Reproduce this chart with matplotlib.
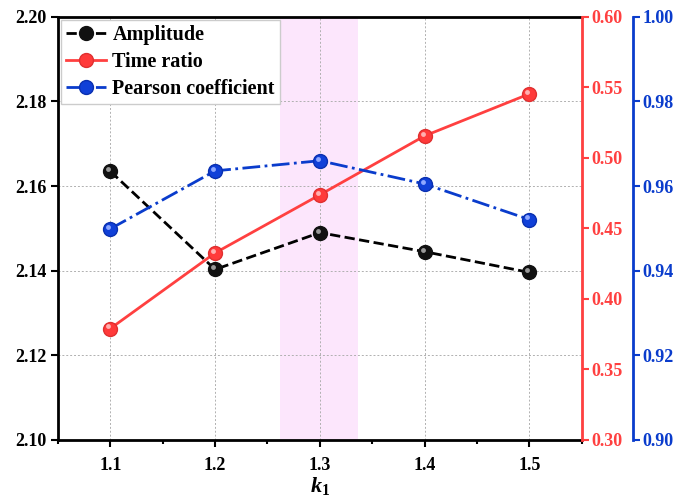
import matplotlib.pyplot as plt
from matplotlib.ticker import MultipleLocator
from matplotlib.transforms import offset_copy

# --- data ---
k1 = [1.1, 1.2, 1.3, 1.4, 1.5]
amplitude = [2.1635, 2.1403, 2.149, 2.1445, 2.1396]
time_ratio = [0.379, 0.4326, 0.4738, 0.5156, 0.5454]
pearson = [0.9499, 0.9636, 0.966, 0.9605, 0.9521]
shade_range = [1.262, 1.336]

plt.rcParams['font.family'] = ['Liberation Serif', 'DejaVu Serif']
plt.rcParams['font.weight'] = 'bold'
plt.rcParams['mathtext.fontset'] = 'custom'
plt.rcParams['mathtext.it'] = 'Liberation Serif:italic:bold'
plt.rcParams['mathtext.rm'] = 'Liberation Serif:bold'

red = '#ff4040'
blue = '#0a3ccc'

fig = plt.figure(figsize=(6.82, 4.96), dpi=100)
ax = fig.add_axes([0.085, 0.113, 0.768, 0.853])
ax2 = ax.twinx()
ax3 = ax.twinx()
ax3.spines['right'].set_position(('outward', 37))

ax.axvspan(shade_range[0], shade_range[1], color='#fce6fc', zorder=0, lw=0)

l1, = ax.plot(k1, amplitude, '--', color='black', lw=2, marker='o', ms=10,
              mfc='#111111', mec='#111111', label='Amplitude')
l2, = ax2.plot(k1, time_ratio, '-', color=red, lw=2, marker='o', ms=10,
               mfc='#ff3a3a', mec='#e03030', label='Time ratio')
l3, = ax3.plot(k1, pearson, '-.', color=blue, lw=2, marker='o', ms=10,
               mfc='#1040d8', mec='#0a30b0', label='Pearson coefficient')

# small highlights to mimic the shaded balls
for a, ys, hc in [(ax, amplitude, '#9a9a9a'), (ax2, time_ratio, '#ffb0b0'),
                  (ax3, pearson, '#8fa8ff')]:
    tr = offset_copy(a.transData, fig=fig, x=-1.5, y=1.5, units='points')
    a.plot(k1, ys, 'o', ms=3.5, color=hc, mec='none', transform=tr)

ax.set_xlim(1.05, 1.55)
ax.set_ylim(2.10, 2.20)
ax2.set_ylim(0.30, 0.60)
ax3.set_ylim(0.90, 1.00)

ax.set_xticks(k1)
ax.xaxis.set_minor_locator(MultipleLocator(0.05))
ax.set_yticks([2.10, 2.12, 2.14, 2.16, 2.18, 2.20])
ax.yaxis.set_major_formatter(plt.FormatStrFormatter('%.2f'))
ax2.set_yticks([0.30, 0.35, 0.40, 0.45, 0.50, 0.55, 0.60])
ax2.yaxis.set_major_formatter(plt.FormatStrFormatter('%.2f'))
ax3.set_yticks([0.90, 0.92, 0.94, 0.96, 0.98, 1.00])
ax3.yaxis.set_major_formatter(plt.FormatStrFormatter('%.2f'))

ax.grid(True, color='#b0b0b0', ls=(0, (2, 2)), lw=0.7)
ax.set_axisbelow(True)

ax.tick_params(axis='both', which='major', direction='out', length=5, width=1.5, labelsize=13)
ax.tick_params(axis='x', which='major', pad=7)
ax.tick_params(axis='x', which='minor', direction='out', length=3, width=1.5)
ax2.tick_params(axis='y', direction='out', length=5, width=1.5, labelsize=13,
                colors=red, pad=2)
ax3.tick_params(axis='y', direction='out', length=5, width=1.5, labelsize=13,
                colors=blue, pad=2)

for s in ['left', 'bottom', 'top']:
    ax.spines[s].set_linewidth(2)
ax2.spines['right'].set_color(red)
ax2.spines['right'].set_linewidth(2)
ax3.spines['right'].set_color(blue)
ax3.spines['right'].set_linewidth(2)
for a in (ax2, ax3):
    for s in ['left', 'bottom', 'top']:
        a.spines[s].set_visible(False)

ax.set_xlabel(r'$k_1$', fontsize=16, labelpad=1)

ax.legend(handles=[l1, l2, l3], loc='upper left', fontsize=14.5,
          frameon=True, fancybox=False, edgecolor='#cccccc', framealpha=1,
          handlelength=2.0, handletextpad=0.3, borderpad=0.25,
          labelspacing=0.35, borderaxespad=0.15)

fig.savefig('out.png', dpi=100)
